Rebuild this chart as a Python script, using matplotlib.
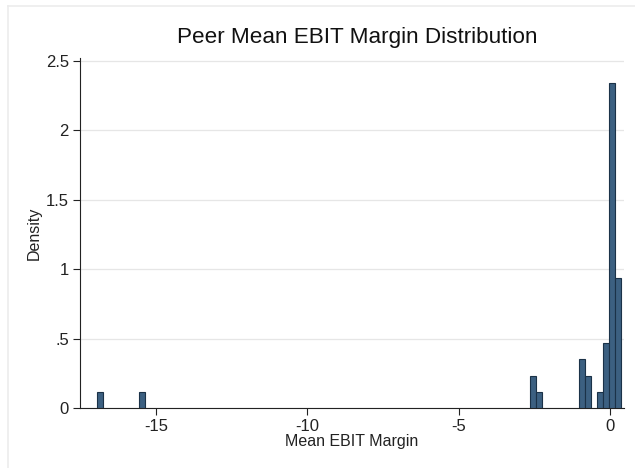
import numpy as np
import matplotlib.pyplot as plt
from matplotlib.lines import Line2D

plt.rcParams['font.family'] = ['Liberation Sans', 'DejaVu Sans']

# histogram bins (width 0.2 approx) and observation counts per non-empty bin
bin_start = -16.96
bin_width = 0.199
bin_index = [0, 7, 72, 73, 80, 81, 83, 84, 85, 86]
bin_count = [1, 1, 2, 1, 3, 2, 1, 4, 20, 8]
n_obs = sum(bin_count)

xticks = [-15, -10, -5, 0]
xticklabels = ['-15', '-10', '-5', '0']
yticks = [0, 0.5, 1, 1.5, 2, 2.5]
yticklabels = ['0', '.5', '1', '1.5', '2', '2.5']

left = bin_start + np.array(bin_index) * bin_width
density = np.array(bin_count) / (n_obs * bin_width)

fig = plt.figure(figsize=(6.35, 4.68), dpi=100)
ax = fig.add_axes([80 / 635, 1 - 408 / 468, 544 / 635, 350 / 468])

ax.bar(left, density, width=bin_width, align='edge',
       color='#3c6081', edgecolor='#1b3248', linewidth=0.8, zorder=3)

ax.set_xlim(-17.51, 0.46)
ax.set_ylim(0, 2.52)
ax.set_xticks(xticks)
ax.set_xticklabels(xticklabels)
ax.set_yticks(yticks)
ax.set_yticklabels(yticklabels)
ax.yaxis.grid(True, color='#e6e6e6', linewidth=0.9, zorder=0)
ax.tick_params(axis='both', labelsize=12, colors='#222222', length=5,
               width=0.8, pad=3)
for side in ['top', 'right']:
    ax.spines[side].set_visible(False)
for side in ['left', 'bottom']:
    ax.spines[side].set_color('#222222')
    ax.spines[side].set_linewidth(0.8)

ax.set_xlabel('Mean EBIT Margin', fontsize=11.5, color='#222222', labelpad=0)
ax.set_ylabel('Density', fontsize=11.5, color='#222222', labelpad=3)
fig.text(357 / 635, 1 - 37 / 468, 'Peer Mean EBIT Margin Distribution',
         ha='center', va='center', fontsize=16.2, color='#111111')

# faint frame around the graph region
fig.add_artist(Line2D([8 / 635, 8 / 635], [0, 1 - 6 / 468],
                      color='#ececec', linewidth=1.2))
fig.add_artist(Line2D([8 / 635, 1], [1 - 6 / 468, 1 - 6 / 468],
                      color='#ececec', linewidth=1.2))

fig.savefig('out.png', dpi=100)
